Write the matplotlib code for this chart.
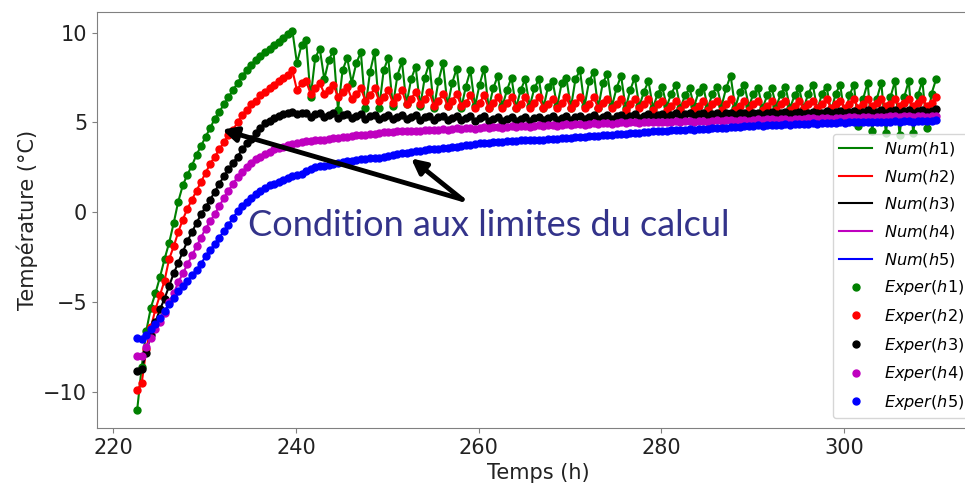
import numpy as np
import matplotlib
matplotlib.use("Agg")
import matplotlib.pyplot as plt

# temps (h), pas de 0.5 h
temps = np.round(np.arange(222.6, 310.2, 0.5), 1)

# h1 (vert)
t_h1 = [-11.0, -8.6, -6.6, -5.3, -4.5, -3.6, -2.6, -1.7, -0.6, 0.6,
        1.5, 2.1, 2.6, 3.2, 3.7, 4.2, 4.7, 5.2, 5.6, 6.0,
        6.4, 6.8, 7.2, 7.6, 7.9, 8.2, 8.5, 8.7, 8.9, 9.1,
        9.3, 9.5, 9.7, 9.9, 10.1,
        8.3, 9.3, 9.6, 6.4, 8.6, 9.1, 7.4, 8.5, 9.0, 5.7, 7.9, 8.6,
        7.2, 8.3, 8.9, 5.8, 7.8, 8.9, 5.8, 7.9, 8.6, 5.9, 7.6, 8.4,
        6.0, 7.4, 8.1, 5.9, 7.5, 8.3, 5.8, 7.3, 8.3, 5.9, 7.2, 8.0,
        5.8, 7.0, 7.9, 5.9, 7.1, 8.0, 5.8, 6.9, 7.6, 5.9, 6.8, 7.5,
        5.8, 6.8, 7.4, 5.9, 6.9, 7.4, 5.8, 7.0, 7.3, 5.9, 7.2, 7.5,
        5.8, 7.4, 7.9, 5.9, 7.3, 7.8, 5.8, 7.2, 7.7, 5.9, 6.9, 7.6,
        5.8, 6.8, 7.5, 5.9, 6.7, 7.3, 5.8, 6.6, 7.0, 5.9, 6.6, 7.1,
        5.8, 6.5, 6.9, 5.9, 6.7, 7.0, 5.8, 6.6, 7.0, 5.9, 6.9, 7.6,
        5.8, 6.7, 7.1, 5.9, 6.6, 6.9, 5.8, 6.5, 6.9, 5.9, 6.6, 7.0,
        5.8, 6.5, 6.9, 5.8, 6.6, 7.1, 5.7, 6.6, 7.0, 5.6, 6.6, 7.1,
        5.3, 6.5, 7.1, 4.8, 6.3, 7.2, 4.5, 6.3, 7.2, 4.4, 6.4, 7.3,
        4.3, 6.4, 7.3, 4.4, 6.5, 7.3, 4.7, 6.6, 7.4]

# h2 (rouge)
t_h2 = [-9.9, -9.5, -7.6, -6.4, -5.4, -4.6, -3.8, -2.6, -1.9, -1.1,
        -0.4, 0.2, 0.7, 1.2, 1.7, 2.2, 2.7, 3.1, 3.5, 3.9,
        4.3, 4.6, 5.0, 5.4, 5.7, 6.0, 6.2, 6.5, 6.7, 6.9,
        7.1, 7.3, 7.45, 7.65, 7.9,
        6.8, 7.2, 7.3, 6.6, 6.9, 7.2, 6.6, 6.8, 7.1, 6.4, 6.7, 7.0,
        6.3, 6.6, 6.9, 6.2, 6.5, 6.9, 6.2, 6.4, 6.8, 6.1, 6.4, 6.8,
        6.0, 6.3, 6.7, 6.0, 6.3, 6.7, 5.9, 6.2, 6.6, 5.9, 6.2, 6.6,
        5.9, 6.1, 6.5, 5.8, 6.1, 6.5, 5.8, 6.1, 6.4, 5.8, 6.1, 6.4,
        5.8, 6.0, 6.4, 5.8, 6.1, 6.4, 5.8, 6.0, 6.3, 5.8, 6.1, 6.4,
        5.8, 6.1, 6.4, 5.8, 6.0, 6.4, 5.8, 6.1, 6.3, 5.8, 6.0, 6.3,
        5.7, 6.0, 6.3, 5.8, 6.0, 6.3, 5.7, 6.0, 6.2, 5.7, 5.9, 6.2,
        5.7, 6.0, 6.2, 5.7, 5.9, 6.2, 5.7, 6.0, 6.2, 5.7, 6.0, 6.3,
        5.7, 5.9, 6.2, 5.7, 6.0, 6.2, 5.7, 5.9, 6.2, 5.7, 6.0, 6.2,
        5.7, 5.9, 6.2, 5.8, 6.0, 6.2, 5.8, 6.0, 6.3, 5.8, 6.0, 6.2,
        5.8, 6.0, 6.3, 5.8, 6.0, 6.3, 5.9, 6.1, 6.3, 5.9, 6.0, 6.3,
        5.9, 6.1, 6.3, 5.9, 6.1, 6.3, 5.9, 6.1, 6.4]

# h3 (noir)
t_h3 = [-8.8, -8.7, -7.8, -6.8, -6.1, -5.4, -4.8, -4.1, -3.4, -2.8,
        -2.2, -1.6, -1.1, -0.6, -0.1, 0.3, 0.7, 1.15, 1.6, 2.0,
        2.4, 2.75, 3.1, 3.5, 3.85, 4.1, 4.4, 4.7, 4.95, 5.1,
        5.25, 5.35, 5.45, 5.55, 5.6,
        5.45, 5.5, 5.55, 5.3, 5.45, 5.5, 5.3, 5.4, 5.5, 5.25, 5.4, 5.45,
        5.25, 5.35, 5.45, 5.2, 5.35, 5.4, 5.2, 5.3, 5.4, 5.2, 5.3, 5.4,
        5.2, 5.3, 5.4, 5.15, 5.3, 5.35, 5.15, 5.3, 5.35, 5.15, 5.25, 5.35,
        5.15, 5.25, 5.35, 5.1, 5.25, 5.35, 5.1, 5.2, 5.3, 5.1, 5.2, 5.3,
        5.1, 5.2, 5.3, 5.1, 5.25, 5.3, 5.15, 5.25, 5.35, 5.15, 5.25, 5.35,
        5.15, 5.3, 5.35, 5.2, 5.3, 5.4, 5.2, 5.3, 5.4, 5.2, 5.35, 5.4,
        5.25, 5.35, 5.45, 5.25, 5.35, 5.45, 5.3, 5.4, 5.45, 5.3, 5.4, 5.5,
        5.3, 5.45, 5.5, 5.35, 5.45, 5.5, 5.35, 5.45, 5.55, 5.35, 5.5, 5.55,
        5.4, 5.5, 5.55, 5.4, 5.5, 5.55, 5.4, 5.5, 5.6, 5.45, 5.5, 5.6,
        5.45, 5.55, 5.6, 5.45, 5.55, 5.6, 5.5, 5.55, 5.65, 5.5, 5.6, 5.65,
        5.5, 5.6, 5.65, 5.5, 5.6, 5.7, 5.55, 5.6, 5.7, 5.55, 5.65, 5.7,
        5.55, 5.65, 5.7, 5.55, 5.65, 5.7, 5.6, 5.65, 5.75]

# h4 (violet)
t_h4 = [-8.0, -8.0, -7.5, -7.0, -6.5, -6.1, -5.6, -5.0, -4.5, -3.9,
        -3.4, -2.9, -2.4, -1.9, -1.4, -0.9, -0.5, -0.1, 0.35, 0.8,
        1.2, 1.6, 1.95, 2.25, 2.5, 2.75, 2.95, 3.1, 3.25, 3.35,
        3.5, 3.6, 3.65, 3.75, 3.8,
        3.85, 3.9, 3.95, 3.95, 4.0, 4.05, 4.05, 4.1, 4.15, 4.15, 4.2, 4.2,
        4.25, 4.3, 4.3, 4.3, 4.35, 4.35, 4.4, 4.45, 4.45, 4.45, 4.5, 4.5,
        4.5, 4.55, 4.55, 4.55, 4.6, 4.6, 4.6, 4.6, 4.65, 4.6, 4.65, 4.7,
        4.65, 4.7, 4.7, 4.65, 4.7, 4.75, 4.7, 4.75, 4.75, 4.7, 4.75, 4.8,
        4.75, 4.8, 4.8, 4.75, 4.8, 4.85, 4.8, 4.85, 4.85, 4.8, 4.85, 4.9,
        4.85, 4.9, 4.9, 4.85, 4.9, 4.95, 4.9, 4.95, 4.95, 4.9, 4.95, 5.0,
        4.95, 5.0, 5.0, 4.95, 5.0, 5.05, 5.0, 5.05, 5.05, 5.0, 5.05, 5.1,
        5.05, 5.1, 5.1, 5.05, 5.1, 5.1, 5.05, 5.1, 5.15, 5.1, 5.15, 5.15,
        5.1, 5.15, 5.15, 5.1, 5.15, 5.2, 5.15, 5.2, 5.2, 5.15, 5.2, 5.2,
        5.15, 5.2, 5.2, 5.2, 5.25, 5.25, 5.2, 5.25, 5.25, 5.2, 5.25, 5.25,
        5.25, 5.3, 5.3, 5.25, 5.3, 5.3, 5.25, 5.3, 5.3, 5.3, 5.35, 5.35,
        5.3, 5.35, 5.35, 5.3, 5.35, 5.35, 5.3, 5.35, 5.35]

# h5 (bleu)
t_h5 = [-7.0, -7.05, -6.8, -6.5, -6.2, -5.9, -5.5, -5.1, -4.75, -4.4,
        -4.1, -3.8, -3.5, -3.2, -2.85, -2.45, -2.1, -1.75, -1.4, -1.05,
        -0.7, -0.3, 0.05, 0.35, 0.6, 0.8, 1.0, 1.2, 1.35, 1.5,
        1.6, 1.7, 1.8, 1.9, 2.0,
        2.05, 2.15, 2.3, 2.4, 2.5, 2.55, 2.6, 2.65, 2.7, 2.75, 2.8, 2.85,
        2.85, 2.9, 2.95, 2.95, 3.0, 3.05, 3.05, 3.1, 3.15, 3.2, 3.25, 3.3,
        3.3, 3.35, 3.4, 3.4, 3.45, 3.5, 3.5, 3.55, 3.6, 3.6, 3.65, 3.65,
        3.7, 3.75, 3.75, 3.8, 3.85, 3.85, 3.85, 3.9, 3.9, 3.9, 3.95, 3.95,
        3.95, 4.0, 4.0, 4.0, 4.05, 4.05, 4.05, 4.1, 4.1, 4.1, 4.15, 4.15,
        4.15, 4.2, 4.2, 4.2, 4.25, 4.25, 4.25, 4.3, 4.3, 4.3, 4.35, 4.35,
        4.35, 4.4, 4.4, 4.4, 4.45, 4.45, 4.5, 4.55, 4.55, 4.55, 4.6, 4.6,
        4.6, 4.6, 4.65, 4.6, 4.65, 4.65, 4.65, 4.7, 4.7, 4.7, 4.7, 4.75,
        4.75, 4.75, 4.8, 4.8, 4.8, 4.85, 4.8, 4.85, 4.85, 4.85, 4.85, 4.9,
        4.85, 4.9, 4.9, 4.9, 4.9, 4.95, 4.9, 4.95, 4.95, 4.95, 4.95, 5.0,
        4.95, 5.0, 5.0, 5.0, 5.0, 5.05, 5.0, 5.05, 5.05, 5.05, 5.05, 5.1,
        5.05, 5.1, 5.1, 5.05, 5.1, 5.1, 5.1, 5.1, 5.15]

series = [t_h1, t_h2, t_h3, t_h4, t_h5]
couleurs = ["g", "r", "k", "m", "b"]
noms = ["h1", "h2", "h3", "h4", "h5"]

fig = plt.figure(figsize=(9.65, 4.96), dpi=100)
ax = fig.add_axes([0.1005, 0.137, 0.914, 0.839])

for y, c, n in zip(series, couleurs, noms):
    ax.plot(temps, y, color=c, lw=1.5, label="$Num(%s)$" % n)
for y, c, n in zip(series, couleurs, noms):
    ax.plot(temps, y, "o", color=c, ms=5, label="$Exper(%s)$" % n)

ax.set_xlim(218.2, 314.8)
ax.set_ylim(-12.0, 11.15)
ax.set_xticks([220, 240, 260, 280, 300])
ax.set_yticks([-10, -5, 0, 5, 10])
ax.tick_params(labelsize=15, color="#808080", labelcolor="#222222")
for s in ax.spines.values():
    s.set_color("#808080")
ax.set_xlabel("Temps (h)", fontsize=15, color="#222222")
ax.set_ylabel("Température (°C)", fontsize=15, color="#222222")

ax.legend(loc="upper left", bbox_to_anchor=(0.825, 0.727), fontsize=11.6,
          labelspacing=0.6, handlelength=2.05, handletextpad=0.75,
          borderpad=0.4)

# fleches et texte
for cible in [(231.9, 4.6), (252.6, 3.0)]:
    ax.annotate("", xy=cible, xytext=(258.2, 0.72),
                arrowprops=dict(arrowstyle="-|>", color="black", lw=3.5,
                                mutation_scale=22, shrinkA=0, shrinkB=0))
ax.text(234.7, -1.33, "Condition aux limites du calcul", fontsize=26,
        family="Lato", color="#33338a", va="baseline", ha="left")

fig.savefig("out.png", dpi=100)
